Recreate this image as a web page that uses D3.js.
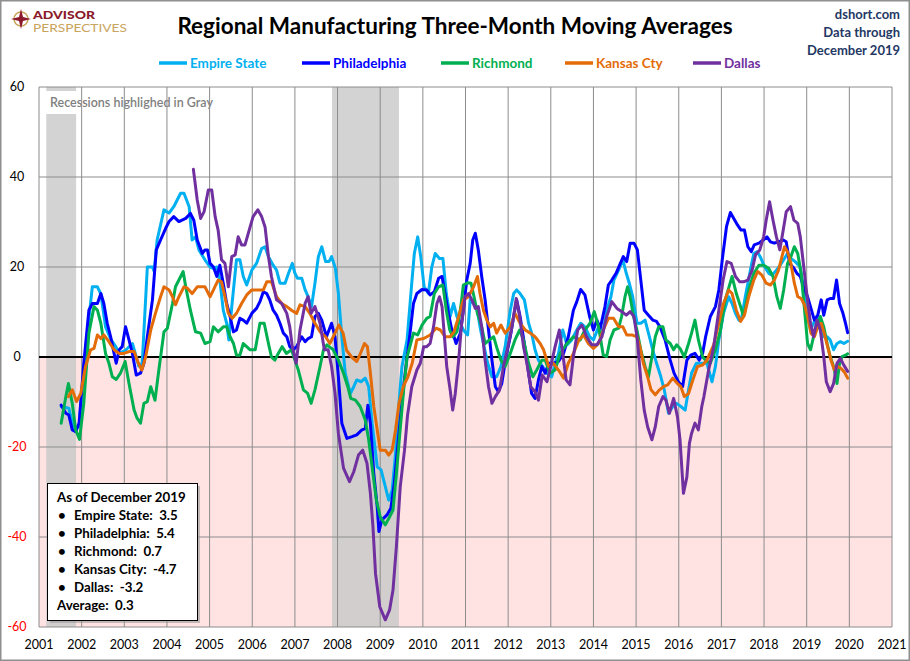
<!DOCTYPE html>
<html>
<head>
<meta charset="utf-8">
<script src="https://cdn.jsdelivr.net/npm/d3@7"></script>
<style>
  body { margin: 0; background: #fff; }
  svg { display: block; font-family: Lato, "Open Sans", sans-serif; }
</style>
</head>
<body>
<div id="chart"></div>
<script>
// ---- data ([year, value]) ----
const empireState = [
  [2001.52,-11],[2001.7,-11.4],[2001.82,-16],[2001.94,-15.5],[2002.09,1.5],[2002.25,15.6],[2002.37,15.6],[2002.45,14],
  [2002.56,6.7],[2002.68,4],[2002.8,2.3],[2002.88,0.8],[2003.03,1.5],[2003.19,3],[2003.34,-2],[2003.42,-1.4],
  [2003.54,20],[2003.66,20],[2003.7,19],[2003.77,26],[2003.93,32.7],[2004.05,32],[2004.16,33.4],[2004.32,36.4],
  [2004.4,36.4],[2004.52,33.4],[2004.59,26],[2004.67,26.7],[2004.75,23.8],[2004.89,21.6],[2005.01,20],[2005.09,19.7],
  [2005.17,20],[2005.24,17.1],[2005.32,10.4],[2005.4,7.5],[2005.45,3.8],[2005.52,11.2],[2005.63,21.6],[2005.71,21.6],
  [2005.79,17.9],[2005.87,16],[2005.99,19.3],[2006.1,20.8],[2006.22,24.1],[2006.3,24.5],[2006.38,22.3],[2006.49,20.4],
  [2006.57,19.3],[2006.65,16.4],[2006.77,16.4],[2006.85,18.6],[2006.94,20.8],[2007.0,18.6],[2007.06,17.5],[2007.16,17.5],
  [2007.24,14.9],[2007.31,13.4],[2007.39,11.2],[2007.47,16.4],[2007.55,22.3],[2007.63,24.5],[2007.72,21.2],[2007.8,21.2],
  [2007.86,22.3],[2007.95,19.7],[2008.02,14.1],[2008.1,4.5],[2008.18,-3.6],[2008.3,-8.1],[2008.38,-6.6],[2008.45,-5.1],
  [2008.55,-5.5],[2008.65,-4.7],[2008.73,-6.6],[2008.81,-14.7],[2008.93,-24.4],[2009.02,-25.1],[2009.12,-28.8],[2009.2,-31.8],
  [2009.28,-29.6],[2009.36,-21.4],[2009.44,-10.3],[2009.51,-2.1],[2009.63,3.8],[2009.74,16.4],[2009.8,23],[2009.88,26.7],
  [2009.95,22.3],[2010.03,15.6],[2010.13,14.1],[2010.21,20],[2010.29,23],[2010.39,21.9],[2010.47,21.9],[2010.55,14.1],
  [2010.64,9],[2010.72,11.9],[2010.8,9],[2010.88,7.5],[2010.95,6],[2011.05,4.9],[2011.11,12.7],[2011.19,11.9],
  [2011.27,10.8],[2011.34,6.7],[2011.42,3],[2011.52,-1.4],[2011.62,-4.4],[2011.73,-4.4],[2011.83,-2.1],[2011.93,2.3],
  [2012.05,10.4],[2012.13,14.1],[2012.2,14.9],[2012.28,14.1],[2012.38,12.7],[2012.48,7.5],[2012.55,5.3],[2012.63,1.6],
  [2012.71,-0.7],[2012.8,-2],[2012.91,-3.6],[2013.02,-4.4],[2013.1,-1.4],[2013.18,0.8],[2013.28,6],[2013.38,2.7],
  [2013.49,3.8],[2013.61,6],[2013.7,7.5],[2013.8,6.7],[2013.91,4.5],[2014.0,3.8],[2014.12,6.7],[2014.22,5.3],
  [2014.31,10.4],[2014.41,13.4],[2014.48,17.1],[2014.59,19.3],[2014.69,21.6],[2014.77,18.6],[2014.84,16.4],[2014.92,13.4],
  [2015.02,7.5],[2015.11,7.5],[2015.21,8.2],[2015.29,5.3],[2015.39,1.6],[2015.48,-1.4],[2015.58,-4.4],[2015.66,-7.3],
  [2015.76,-12.5],[2015.86,-11],[2015.95,-10.3],[2016.05,-11],[2016.15,-11.8],[2016.23,-7.3],[2016.3,-3.6],[2016.41,-1.4],
  [2016.5,-1.4],[2016.66,-1.4],[2016.78,-5.5],[2016.86,-2.1],[2016.94,3.8],[2017.05,9.7],[2017.17,13.4],[2017.25,11.9],
  [2017.33,9.7],[2017.41,8.2],[2017.48,9],[2017.56,13.4],[2017.68,19.3],[2017.76,23],[2017.84,23.4],[2017.91,22.3],
  [2018.01,20.1],[2018.11,18.6],[2018.19,18.2],[2018.29,19.3],[2018.38,20.4],[2018.46,21.6],[2018.55,23],[2018.63,21.9],
  [2018.73,21.2],[2018.84,20.1],[2018.91,16.4],[2018.99,10.4],[2019.09,6],[2019.16,7.5],[2019.24,9],[2019.32,6],
  [2019.4,4.5],[2019.48,4.5],[2019.55,3.8],[2019.63,1.6],[2019.71,3],[2019.79,3.4],[2019.87,3],[2019.96,3.5]
];
const philadelphia = [
  [2001.52,-10.7],[2001.63,-12.5],[2001.7,-12.9],[2001.78,-16.2],[2001.86,-16.6],[2001.94,-14.7],[2002.05,-1.4],[2002.17,10.4],
  [2002.25,11.9],[2002.37,11.9],[2002.45,14.1],[2002.52,11.9],[2002.6,7.5],[2002.68,4.5],[2002.76,0.8],[2002.81,-1.4],
  [2002.88,1.6],[2002.95,2.3],[2003.03,6.7],[2003.11,3.8],[2003.19,0.8],[2003.28,-4],[2003.38,-3.6],[2003.46,-1.4],
  [2003.54,4.5],[2003.66,12.7],[2003.75,23.8],[2003.85,26],[2003.97,28.6],[2004.05,30.1],[2004.16,31.2],[2004.28,30.1],
  [2004.44,30.8],[2004.55,31.9],[2004.63,30.4],[2004.71,26],[2004.83,23],[2004.89,23.8],[2004.95,23.8],[2005.01,20.8],
  [2005.09,20],[2005.17,17.9],[2005.24,20.4],[2005.32,16.4],[2005.4,11.9],[2005.48,9],[2005.56,5.6],[2005.63,6],
  [2005.71,8.6],[2005.79,8.2],[2005.87,7.5],[2005.99,9.7],[2006.1,10.8],[2006.18,12.3],[2006.26,14.5],[2006.34,14.1],
  [2006.41,12.7],[2006.49,10.4],[2006.57,9.3],[2006.65,7.5],[2006.73,5.3],[2006.81,4.5],[2006.88,2.3],[2006.96,1.6],
  [2007.04,2.3],[2007.16,4.5],[2007.24,3.4],[2007.31,4.1],[2007.39,4.5],[2007.47,9],[2007.55,9.7],[2007.63,8.2],
  [2007.74,4.5],[2007.86,7.5],[2007.94,4.5],[2008.02,-4.4],[2008.1,-14.7],[2008.22,-18.1],[2008.34,-17.7],[2008.45,-17.3],
  [2008.57,-16.2],[2008.65,-15.9],[2008.71,-10.7],[2008.77,-14.7],[2008.85,-25.9],[2008.93,-33.3],[2008.97,-38.8],[2009.04,-36.2],
  [2009.16,-35.1],[2009.25,-33.6],[2009.33,-28.1],[2009.44,-17],[2009.54,-7.3],[2009.62,-0.7],[2009.7,5.3],[2009.78,11.9],
  [2009.86,14.1],[2009.98,15],[2010.09,14.9],[2010.17,13.8],[2010.27,14.5],[2010.37,17.5],[2010.45,17.9],[2010.52,14.1],
  [2010.6,9.7],[2010.68,6],[2010.78,3],[2010.88,5.3],[2010.95,10.4],[2011.03,17.1],[2011.11,20.8],[2011.17,26],
  [2011.23,27.5],[2011.3,23.8],[2011.38,17.9],[2011.46,12.7],[2011.54,6],[2011.62,-0.7],[2011.7,-6.6],[2011.77,-7.7],
  [2011.85,-5.9],[2011.95,0],[2012.05,4.5],[2012.13,9],[2012.2,12.7],[2012.28,9],[2012.38,3],[2012.48,-3.6],
  [2012.55,-8.1],[2012.63,-9.2],[2012.71,-5.1],[2012.79,-2.1],[2012.87,-3.6],[2012.95,-1.4],[2013.06,-1.4],[2013.18,-1],
  [2013.3,0.8],[2013.41,4.5],[2013.53,10.4],[2013.61,12.3],[2013.7,15],[2013.8,13.8],[2013.91,9],[2014.0,6],
  [2014.08,8.2],[2014.16,6.4],[2014.27,11.2],[2014.35,16],[2014.43,17.1],[2014.53,18.6],[2014.63,20.8],[2014.7,22.3],
  [2014.78,21.2],[2014.86,25.3],[2014.95,25.3],[2015.03,23.8],[2015.11,17.1],[2015.19,10.4],[2015.29,9.3],[2015.39,8.2],
  [2015.48,7.9],[2015.56,6.7],[2015.68,3.8],[2015.8,-0.7],[2015.89,-3.6],[2015.99,-5.5],[2016.09,-6.6],[2016.19,-0.7],
  [2016.28,0.4],[2016.38,0.8],[2016.48,-0.7],[2016.56,0.8],[2016.63,4.5],[2016.74,9],[2016.86,11.2],[2016.94,14.9],
  [2017.02,21.6],[2017.12,29],[2017.21,32.1],[2017.29,30.8],[2017.38,29.3],[2017.46,28.2],[2017.54,28.2],[2017.62,24.5],
  [2017.7,23.4],[2017.77,24.9],[2017.88,25.3],[2017.98,26],[2018.07,26.7],[2018.15,25.6],[2018.24,25.3],[2018.34,25.6],
  [2018.45,26],[2018.52,25.6],[2018.6,20.8],[2018.7,19.7],[2018.77,18.6],[2018.85,17.9],[2018.95,14.9],[2019.02,13.4],
  [2019.1,10.8],[2019.18,8.2],[2019.26,9.3],[2019.34,12.7],[2019.4,9.3],[2019.48,12.7],[2019.55,13],[2019.63,13],
  [2019.7,17.1],[2019.77,11.9],[2019.85,9.7],[2019.91,7.5],[2019.96,5.4]
];
const richmond = [
  [2001.52,-14.7],[2001.63,-8.8],[2001.69,-5.9],[2001.78,-10.3],[2001.86,-16.2],[2001.95,-18.3],[2002.05,-10.3],[2002.17,5.3],
  [2002.29,11.2],[2002.37,10.4],[2002.45,7.5],[2002.56,0.8],[2002.64,-1.4],[2002.72,-4.4],[2002.81,-5],[2002.91,-3.6],
  [2003.02,-1],[2003.11,-5.9],[2003.23,-11.8],[2003.3,-13.6],[2003.38,-14.7],[2003.46,-10.3],[2003.54,-9.9],[2003.62,-6.6],
  [2003.72,-9.6],[2003.81,-2.9],[2003.93,5.6],[2004.01,6.4],[2004.13,11.9],[2004.2,15.6],[2004.28,17.1],[2004.38,19],
  [2004.44,15.6],[2004.55,10.4],[2004.67,5.6],[2004.79,5.3],[2004.89,3],[2005.01,3.4],[2005.09,6.7],[2005.2,5.6],
  [2005.32,6.7],[2005.4,6.7],[2005.48,4.5],[2005.56,3],[2005.63,0.4],[2005.71,0.4],[2005.79,3],[2005.87,2.3],
  [2005.95,1.6],[2006.07,1.6],[2006.18,7.5],[2006.28,7.5],[2006.38,3],[2006.45,0],[2006.53,-0.7],[2006.61,0.8],
  [2006.7,2.3],[2006.8,0.8],[2006.92,1.6],[2007.0,-0.7],[2007.08,-2.9],[2007.2,-7.3],[2007.3,-8.1],[2007.38,-10.3],
  [2007.47,-7.3],[2007.59,-2.1],[2007.67,1.6],[2007.75,2.7],[2007.9,1.6],[2008.02,-0.7],[2008.14,-3.6],[2008.24,-6.6],
  [2008.31,-9.2],[2008.42,-9.6],[2008.53,-11],[2008.65,-14],[2008.73,-18.4],[2008.83,-25.9],[2008.91,-31.8],[2009.0,-35.5],
  [2009.12,-37.3],[2009.2,-35.9],[2009.3,-34],[2009.38,-25.9],[2009.46,-17],[2009.55,-7.3],[2009.63,0],[2009.78,5.3],
  [2009.88,4.9],[2009.98,7.1],[2010.09,8.6],[2010.17,9],[2010.27,14.1],[2010.37,15.6],[2010.47,16],[2010.55,10.4],
  [2010.63,6],[2010.7,4.5],[2010.8,5.6],[2010.89,11.2],[2010.95,16],[2011.05,16.5],[2011.13,16.4],[2011.2,13.4],
  [2011.28,9.7],[2011.38,6.7],[2011.46,3],[2011.56,3.8],[2011.66,4.5],[2011.75,1.6],[2011.83,-0.7],[2011.93,-2.1],
  [2012.05,0.8],[2012.16,3.8],[2012.27,6],[2012.36,3.8],[2012.48,-1.4],[2012.58,-4.4],[2012.67,-2.9],[2012.79,-0.7],
  [2012.87,-0.7],[2012.98,-3.6],[2013.1,-2.9],[2013.22,0.8],[2013.38,3],[2013.53,4.5],[2013.69,3.8],[2013.8,6],
  [2013.92,7.5],[2014.02,10.1],[2014.12,6.7],[2014.23,0.4],[2014.31,0.1],[2014.39,3.8],[2014.48,6],[2014.59,6.4],
  [2014.66,9],[2014.74,13.4],[2014.8,15.6],[2014.86,13.4],[2014.94,9],[2015.02,6],[2015.11,1.6],[2015.21,-2.1],
  [2015.29,-4.4],[2015.37,0],[2015.45,4.5],[2015.53,6.7],[2015.63,6.7],[2015.7,3.8],[2015.8,3],[2015.88,1.6],
  [2015.95,2.7],[2016.03,1.9],[2016.13,0],[2016.23,3],[2016.3,5.3],[2016.38,8.2],[2016.46,3.8],[2016.56,0],
  [2016.63,-0.7],[2016.74,-1.4],[2016.86,1.6],[2016.98,6],[2017.09,12.7],[2017.25,17.9],[2017.35,14.1],[2017.45,11.2],
  [2017.52,9],[2017.64,14.9],[2017.76,18.6],[2017.88,20.4],[2017.99,20.4],[2018.11,19.7],[2018.21,17.9],[2018.3,13.4],
  [2018.38,10.8],[2018.46,14.9],[2018.55,20.8],[2018.63,22.3],[2018.71,24.5],[2018.79,23],[2018.87,18.6],[2018.95,10.4],
  [2019.02,3],[2019.09,1.6],[2019.16,4.5],[2019.24,6.7],[2019.32,9],[2019.4,6.7],[2019.48,3],[2019.55,0.1],
  [2019.63,-2.1],[2019.71,-5.9],[2019.77,-1.4],[2019.83,0.1],[2019.91,0.4],[2019.96,0.7]
];
const kansasCity = [
  [2001.69,-8.8],[2001.78,-7.3],[2001.88,-9.9],[2001.98,-8.1],[2002.09,-2.1],[2002.21,1.6],[2002.29,1.9],[2002.37,4.9],
  [2002.45,4.1],[2002.52,4.9],[2002.64,3.4],[2002.76,1.6],[2002.88,0.8],[2002.99,0.8],[2003.11,1.2],[2003.23,1.2],
  [2003.33,-1.4],[2003.41,-2.9],[2003.5,0],[2003.62,6],[2003.73,9.7],[2003.85,13.4],[2003.93,15.6],[2004.05,14.9],
  [2004.13,13.4],[2004.2,11.6],[2004.28,13.4],[2004.4,15.6],[2004.48,15.3],[2004.59,14.1],[2004.71,15.6],[2004.83,15.6],
  [2004.89,15.6],[2005.01,13.4],[2005.09,14.9],[2005.2,17.1],[2005.28,16.7],[2005.36,13.4],[2005.44,9.7],[2005.53,8.6],
  [2005.63,9.7],[2005.75,11.9],[2005.87,13.8],[2005.99,14.9],[2006.14,14.9],[2006.26,14.9],[2006.34,16.7],[2006.45,16.7],
  [2006.57,13.4],[2006.69,11.9],[2006.81,11.2],[2006.92,10.4],[2007.04,9.7],[2007.12,11.6],[2007.24,11.2],[2007.35,9.7],
  [2007.47,7.5],[2007.59,5.6],[2007.72,4.5],[2007.82,3],[2007.94,5.3],[2008.03,7.1],[2008.13,5.3],[2008.21,1.5],
  [2008.33,0],[2008.45,-1],[2008.52,0.4],[2008.63,3],[2008.7,2.3],[2008.77,-3.6],[2008.85,-11],[2008.93,-16.2],
  [2009.0,-20.7],[2009.12,-20.7],[2009.2,-21.8],[2009.28,-20.7],[2009.36,-16.2],[2009.44,-10.3],[2009.54,-6.6],[2009.65,-4.4],
  [2009.75,-1.4],[2009.86,3.8],[2010.02,4.1],[2010.17,4.9],[2010.31,6.4],[2010.41,6],[2010.52,4.5],[2010.64,4.5],
  [2010.73,5.6],[2010.84,9],[2010.95,12.7],[2011.07,13.4],[2011.19,15.6],[2011.28,17.9],[2011.34,14.1],[2011.42,10.4],
  [2011.5,8.2],[2011.58,6.7],[2011.66,7.5],[2011.73,5.3],[2011.83,7.1],[2011.93,5.3],[2012.05,6.7],[2012.16,9.7],
  [2012.28,7.5],[2012.4,6],[2012.52,5.3],[2012.63,4.5],[2012.75,3],[2012.83,1.6],[2012.95,-2.1],[2013.06,-1.4],
  [2013.18,-2.9],[2013.3,-4.7],[2013.41,-1.4],[2013.53,0.8],[2013.66,3.8],[2013.77,4.9],[2013.88,3],[2014.0,1.9],
  [2014.12,3],[2014.23,6],[2014.35,8.6],[2014.47,8.6],[2014.59,6.7],[2014.69,6.7],[2014.78,4.9],[2014.9,4.9],
  [2015.02,4.5],[2015.09,2.3],[2015.17,-1.4],[2015.27,-4.4],[2015.35,-7.3],[2015.45,-8.4],[2015.55,-7.3],[2015.64,-6.6],
  [2015.74,-6.2],[2015.86,-4.7],[2015.97,-5.9],[2016.05,-6.6],[2016.13,-8.8],[2016.23,-8.1],[2016.33,-5.1],[2016.44,-2.1],
  [2016.56,-1.8],[2016.66,-0.7],[2016.82,2.7],[2016.94,7.5],[2017.05,11.9],[2017.17,14.9],[2017.25,14.1],[2017.35,10.4],
  [2017.45,7.9],[2017.54,9.3],[2017.64,13.4],[2017.76,17.1],[2017.85,19],[2017.95,18.2],[2018.05,16.4],[2018.15,16],
  [2018.24,17.1],[2018.34,19.3],[2018.42,22.3],[2018.48,24.5],[2018.55,23.4],[2018.63,20.8],[2018.71,16.4],[2018.79,13.4],
  [2018.87,13],[2018.95,11.6],[2019.02,9],[2019.1,5.3],[2019.18,4.5],[2019.26,6.7],[2019.34,7.5],[2019.41,5.3],
  [2019.49,2.3],[2019.57,-0.7],[2019.65,-2.9],[2019.73,-2.1],[2019.8,-2.5],[2019.88,-3.3],[2019.96,-4.7]
];
const dallas = [
  [2004.62,41.7],[2004.71,34.9],[2004.79,30.8],[2004.87,32.3],[2004.97,37.1],[2005.05,37.1],[2005.13,31.2],[2005.2,28.2],
  [2005.28,21.6],[2005.36,20.8],[2005.44,15.6],[2005.52,22.3],[2005.6,22.7],[2005.67,26.7],[2005.75,24.9],[2005.83,24.9],
  [2005.95,28.9],[2006.02,31.2],[2006.13,32.7],[2006.22,31.2],[2006.3,28.9],[2006.38,22.3],[2006.45,17.9],[2006.57,12.7],
  [2006.69,11.9],[2006.81,9.7],[2006.88,6.7],[2006.94,2.3],[2007.03,-1.4],[2007.12,6],[2007.24,11.9],[2007.31,13.4],
  [2007.38,9.7],[2007.47,11.2],[2007.59,7.5],[2007.69,1.6],[2007.78,1.6],[2007.86,-2.1],[2007.94,-8],[2008.02,-17],
  [2008.14,-24.7],[2008.28,-27.7],[2008.38,-25.5],[2008.49,-21.8],[2008.59,-20.7],[2008.69,-23.6],[2008.77,-30.3],[2008.83,-37.7],
  [2008.89,-48.1],[2008.99,-55.5],[2009.12,-58.4],[2009.22,-56.2],[2009.3,-51.8],[2009.38,-42.1],[2009.47,-28.8],[2009.57,-20.7],
  [2009.64,-13],[2009.74,-6.6],[2009.86,-2.9],[2009.94,-1.4],[2010.02,2.3],[2010.09,2.3],[2010.17,3],[2010.25,6.7],
  [2010.33,11.9],[2010.39,13.4],[2010.45,11.2],[2010.5,5.3],[2010.56,-2.1],[2010.64,-7.3],[2010.7,-11.8],[2010.76,-8.1],
  [2010.84,-0.7],[2010.91,7.5],[2010.99,13.4],[2011.07,14.1],[2011.15,12.7],[2011.23,10.8],[2011.3,11.2],[2011.38,6.7],
  [2011.46,-0.7],[2011.54,-6.6],[2011.62,-10.3],[2011.7,-8.8],[2011.8,-7.3],[2011.89,-2.1],[2011.98,1.6],[2012.09,6.7],
  [2012.19,13],[2012.27,9],[2012.36,2.3],[2012.44,-1.4],[2012.53,-6.6],[2012.63,-7.7],[2012.71,-9.6],[2012.8,-4],
  [2012.91,-5.5],[2013.0,-2.1],[2013.1,2.3],[2013.2,6],[2013.28,0.8],[2013.36,-5.1],[2013.45,-6.2],[2013.53,0.1],
  [2013.63,6],[2013.73,7.1],[2013.84,4.5],[2013.96,2.7],[2014.08,2.7],[2014.2,4.5],[2014.31,9],[2014.43,12.3],
  [2014.55,10.8],[2014.66,10.1],[2014.77,9.3],[2014.86,10.1],[2014.95,9],[2015.03,3.8],[2015.11,-5.1],[2015.19,-11.8],
  [2015.27,-15.5],[2015.37,-18.4],[2015.45,-15.5],[2015.53,-11],[2015.63,-8.8],[2015.7,-9.6],[2015.78,-12.5],[2015.88,-9.2],
  [2015.97,-13.3],[2016.03,-18.4],[2016.11,-30.3],[2016.19,-26.7],[2016.25,-19.2],[2016.3,-17],[2016.38,-14.7],[2016.46,-16.2],
  [2016.54,-11],[2016.59,-8.8],[2016.7,-2.9],[2016.82,2.3],[2016.94,10.4],[2017.04,17.1],[2017.13,21.2],[2017.23,20.8],
  [2017.33,17.9],[2017.43,16.7],[2017.52,16.7],[2017.62,17.1],[2017.72,19.3],[2017.8,22.7],[2017.9,23.8],[2017.99,26.7],
  [2018.05,30.4],[2018.13,34.5],[2018.21,30.4],[2018.29,26.7],[2018.37,23.8],[2018.45,28.2],[2018.52,32.3],[2018.62,33.4],
  [2018.7,30.4],[2018.79,29.7],[2018.85,26.7],[2018.93,20.1],[2019.01,13.4],[2019.09,7.5],[2019.16,4.5],[2019.24,8.2],
  [2019.32,6],[2019.4,0.1],[2019.46,-5.5],[2019.55,-7.7],[2019.63,-5.9],[2019.71,-1.4],[2019.79,-0.3],[2019.87,-1.8],
  [2019.96,-3.2]
];

const seriesNames  = ["Empire State", "Philadelphia", "Richmond", "Kansas Cty", "Dallas"];
const boxNames     = ["Empire State", "Philadelphia", "Richmond", "Kansas City", "Dallas"];
const seriesColors = ["#00B0F0", "#0000FF", "#00B050", "#E36C09", "#7030A0"];
const seriesData   = [empireState, philadelphia, richmond, kansasCity, dallas];

const recessions = [[2001.17, 2001.87], [2007.87, 2009.44]];
const yTicks = [60, 40, 20, 0, -20, -40, -60];
const xTicks = d3.range(2001, 2022);

// ---- layout ----
const W = 910, H = 661;
const plot = { left: 39, right: 892, top: 87, bottom: 627 };

const svg = d3.select("#chart").append("svg")
    .attr("width", W).attr("height", H);

svg.append("rect")              // outer frame
    .attr("x", 0.75).attr("y", 0.75)
    .attr("width", W - 1.5).attr("height", H - 1.5)
    .attr("fill", "#fff").attr("stroke", "#8f8f8f").attr("stroke-width", 1.5);

const x = d3.scaleLinear().domain([2001, 2021]).range([plot.left, plot.right]);
const y = d3.scaleLinear().domain([-60, 60]).range([plot.bottom, plot.top]);

// pink below zero
svg.append("rect")
    .attr("x", x(2001)).attr("y", y(0))
    .attr("width", x(2021) - x(2001)).attr("height", y(-60) - y(0))
    .attr("fill", "#FFE3E3");

// recession bands
svg.selectAll("rect.recession")
  .data(recessions)
  .join("rect")
    .attr("class", "recession")
    .attr("x", d => x(d[0]))
    .attr("y", y(60))
    .attr("width", d => x(d[1]) - x(d[0]))
    .attr("height", y(-60) - y(60))
    .attr("fill", "#C8C8C8")
    .attr("opacity", 0.8);

// note box (white, sits under grid lines)
svg.append("rect")
    .attr("x", 43).attr("y", 91).attr("width", 193).attr("height", 23)
    .attr("fill", "#fff");
svg.append("text")
    .attr("x", 50).attr("y", 107)
    .attr("font-size", 12.5).attr("font-weight", 600)
    .attr("fill", "#7f7f7f")
    .text("Recessions highlighed in Gray");

// grid lines
svg.selectAll("line.vgrid")
  .data(xTicks)
  .join("line")
    .attr("class", "vgrid")
    .attr("x1", d => x(d)).attr("x2", d => x(d))
    .attr("y1", y(60)).attr("y2", y(-60))
    .attr("stroke", "#8c8c8c").attr("stroke-width", 1);

svg.selectAll("line.hgrid")
  .data(yTicks)
  .join("line")
    .attr("class", "hgrid")
    .attr("x1", x(2001)).attr("x2", x(2021))
    .attr("y1", d => y(d)).attr("y2", d => y(d))
    .attr("stroke", d => d === 0 ? "#000" : "#8c8c8c")
    .attr("stroke-width", d => d === 0 ? 2 : 1);

// axis labels
svg.selectAll("text.ylab")
  .data(yTicks)
  .join("text")
    .attr("class", "ylab")
    .attr("x", 17).attr("y", d => y(d))
    .attr("dy", "0.35em")
    .attr("text-anchor", "middle")
    .attr("font-size", 12.5)
    .attr("fill", d => d < 0 ? "#FF0000" : "#000")
    .text(d => d);

svg.selectAll("text.xlab")
  .data(xTicks)
  .join("text")
    .attr("class", "xlab")
    .attr("x", d => x(d)).attr("y", 645)
    .attr("dy", "0.35em")
    .attr("text-anchor", "middle")
    .attr("font-size", 12.5)
    .attr("fill", "#000")
    .text(d => d);

// series lines
const line = d3.line().x(d => x(d[0])).y(d => y(d[1]));

svg.selectAll("path.series")
  .data(seriesData)
  .join("path")
    .attr("class", "series")
    .attr("d", line)
    .attr("fill", "none")
    .attr("stroke", (d, i) => seriesColors[i])
    .attr("stroke-width", 3)
    .attr("stroke-linejoin", "round")
    .attr("stroke-linecap", "round");

// title
svg.append("text")
    .attr("x", 455).attr("y", 34)
    .attr("text-anchor", "middle")
    .attr("font-size", 22.5).attr("font-weight", 700)
    .attr("fill", "#000")
    .text("Regional Manufacturing Three-Month Moving Averages");

// top-right source
svg.selectAll("text.src")
  .data(["dshort.com", "Data through", "December 2019"])
  .join("text")
    .attr("class", "src")
    .attr("x", 900).attr("y", (d, i) => 19 + i * 18)
    .attr("text-anchor", "end")
    .attr("font-size", 13).attr("font-weight", 700)
    .attr("fill", "#1F3864")
    .text(d => d);

// logo
const logo = svg.append("g").attr("transform", "translate(21,19)");
logo.append("circle").attr("r", 7).attr("fill", "none")
    .attr("stroke", "#C9A45C").attr("stroke-width", 1.5);
logo.append("path")
    .attr("d", "M0,-10 L2,-2 L10,0 L2,2 L0,10 L-2,2 L-10,0 L-2,-2 Z")
    .attr("fill", "#8B1A2B");
svg.append("text").attr("x", 33).attr("y", 18.5)
    .attr("font-size", 11.5).attr("font-weight", 900).attr("fill", "#8B1A2B")
    .attr("textLength", 62).attr("lengthAdjust", "spacingAndGlyphs")
    .text("ADVISOR");
svg.append("text").attr("x", 33).attr("y", 31.5)
    .attr("font-size", 10.5).attr("font-weight", 400).attr("fill", "#C9A45C")
    .attr("textLength", 94).attr("lengthAdjust", "spacingAndGlyphs")
    .text("PERSPECTIVES");

// legend
const legendX = [159, 302, 441, 565, 693];
const legend = svg.selectAll("g.legend")
  .data(seriesNames)
  .join("g")
    .attr("class", "legend")
    .attr("transform", (d, i) => `translate(${legendX[i]},63)`);
legend.append("line")
    .attr("x1", 0).attr("x2", 28)
    .attr("stroke", (d, i) => seriesColors[i])
    .attr("stroke-width", 3.5);
legend.append("text")
    .attr("x", 31).attr("dy", "0.36em")
    .attr("font-size", 13.5).attr("font-weight", 700)
    .attr("fill", (d, i) => seriesColors[i])
    .text(d => d);

// "as of" box
const lastVals = seriesData.map(s => s[s.length - 1][1]);
const avg = d3.mean(lastVals);
const box = svg.append("g");
box.append("rect").attr("x", 50).attr("y", 486).attr("width", 150).attr("height", 137)
    .attr("fill", "#9a9a9a").attr("opacity", 0.6);
box.append("rect").attr("x", 47.5).attr("y", 483.5).attr("width", 150).attr("height", 137)
    .attr("fill", "#fff").attr("stroke", "#000").attr("stroke-width", 1);
box.append("text").attr("x", 57).attr("y", 501.5)
    .attr("font-size", 13.3).attr("font-weight", 700).text("As of December 2019");
box.selectAll("g.item")
  .data(boxNames)
  .join("g")
    .attr("class", "item")
    .attr("transform", (d, i) => `translate(0,${519.5 + i * 18})`)
    .call(g => {
      g.append("text").attr("x", 58).attr("font-size", 13.3).attr("font-weight", 700).text("\u2022");
      g.append("text").attr("x", 74).attr("font-size", 13.3).attr("font-weight", 700)
        .attr("xml:space", "preserve")
        .text((d, i) => `${d}:  ${lastVals[i].toFixed(1)}`);
    });
box.append("text").attr("x", 57).attr("y", 609.5)
    .attr("font-size", 13.3).attr("font-weight", 700)
    .attr("xml:space", "preserve")
    .text(`Average:  ${avg.toFixed(1)}`);
</script>
</body>
</html>
